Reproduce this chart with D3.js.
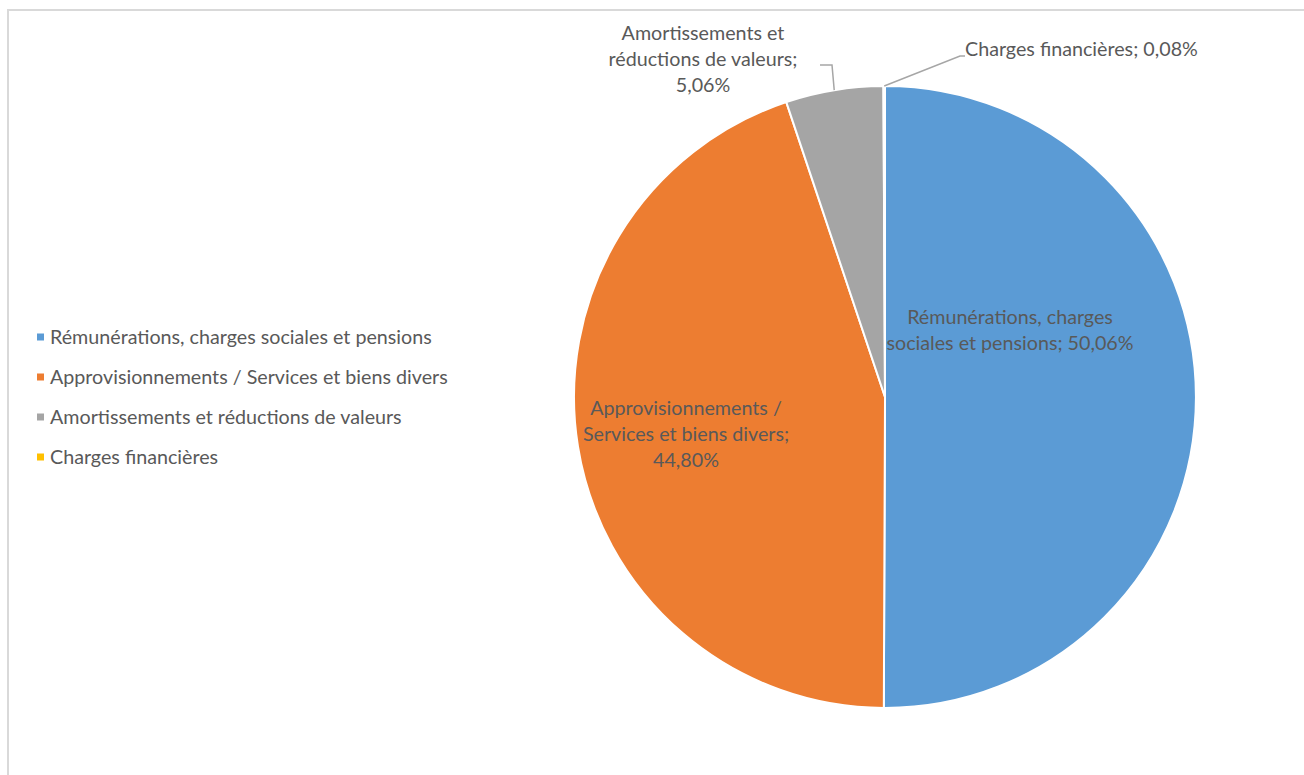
<!DOCTYPE html>
<html>
<head>
<meta charset="utf-8">
<script src="https://cdn.jsdelivr.net/npm/d3@7/dist/d3.min.js"></script>
<style>
  body { margin: 0; background: #fff; }
  svg text { font-family: Lato, "Open Sans", sans-serif; fill: #595959; }
</style>
</head>
<body>
<div id="chart"></div>
<script>
(function () {
  const categories = [
    "Rémunérations, charges sociales et pensions",
    "Approvisionnements / Services et biens divers",
    "Amortissements et réductions de valeurs",
    "Charges financières"
  ];
  const shares = [50.06, 44.80, 5.06, 0.08];
  const colors = ["#5b9bd5", "#ed7d31", "#a5a5a5", "#ffc000"];
  // data label lines as written on the chart
  const labelLines = [
    ["Rémunérations, charges", "sociales et pensions; 50,06%"],
    ["Approvisionnements /", "Services et biens divers;", "44,80%"],
    ["Amortissements et", "réductions de valeurs;", "5,06%"],
    ["Charges financières; 0,08%"]
  ];

  const width = 1304;
  const height = 775;
  const cx = 885, cy = 397, radius = 311;
  const fontSize = 19.7;
  const lineH = 26;

  const svg = d3.select("#chart").append("svg")
    .attr("width", width)
    .attr("height", height);

  // chart frame (only top and left edges show)
  svg.append("rect")
    .attr("x", 8).attr("y", 10)
    .attr("width", width + 20).attr("height", height + 20)
    .attr("fill", "none")
    .attr("stroke", "#d9d9d9")
    .attr("stroke-width", 2);

  const pie = d3.pie().sort(null).value(function (d) { return d; });
  const arcs = pie(shares);

  const arc = d3.arc().innerRadius(0).outerRadius(radius);
  const edge = d3.arc().innerRadius(radius).outerRadius(radius);

  const g = svg.append("g")
    .attr("transform", "translate(" + cx + "," + cy + ")");

  g.selectAll("path.slice")
    .data(arcs)
    .enter().append("path")
    .attr("class", "slice")
    .attr("d", arc)
    .attr("fill", function (d, i) { return colors[i]; })
    .attr("stroke", "#fff")
    .attr("stroke-width", 2)
    .attr("stroke-linejoin", "round");

  // where each label block sits, relative to the pie centre
  const labelPlace = [
    {x: 125, y: -80, anchor: "middle"},
    {x: -199, y: 11, anchor: "middle"},
    {x: -182, y: -364, anchor: "middle"},
    {x: 80, y: -348, anchor: "start"}
  ];
  // leader line elbows for the outside labels
  const leaders = {
    2: [[-53, -332], [-65, -332]],
    3: [[75, -341], [80, -341]]
  };

  arcs.forEach(function (a, i) {
    const p = labelPlace[i];
    const t = g.append("text")
      .attr("text-anchor", p.anchor)
      .attr("font-size", fontSize);
    labelLines[i].forEach(function (line, k) {
      t.append("tspan")
        .attr("x", p.x)
        .attr("y", p.y + k * lineH)
        .attr("dy", "0.35em")
        .text(line);
    });
    if (leaders[i]) {
      const start = edge.centroid(a);
      const pts = [start].concat(leaders[i]);
      g.append("path")
        .attr("d", d3.line()(pts))
        .attr("fill", "none")
        .attr("stroke", "#a6a6a6")
        .attr("stroke-width", 1.5);
    }
  });

  // legend
  const legend = svg.append("g").attr("transform", "translate(37,337)");
  const item = legend.selectAll("g")
    .data(categories)
    .enter().append("g")
    .attr("transform", function (d, i) { return "translate(0," + (i * 40) + ")"; });
  item.append("rect")
    .attr("x", 0).attr("y", -3.5)
    .attr("width", 7).attr("height", 7)
    .attr("fill", function (d, i) { return colors[i]; });
  item.append("text")
    .attr("x", 13)
    .attr("dy", "0.35em")
    .attr("font-size", fontSize)
    .text(function (d) { return d; });
})();
</script>
</body>
</html>
